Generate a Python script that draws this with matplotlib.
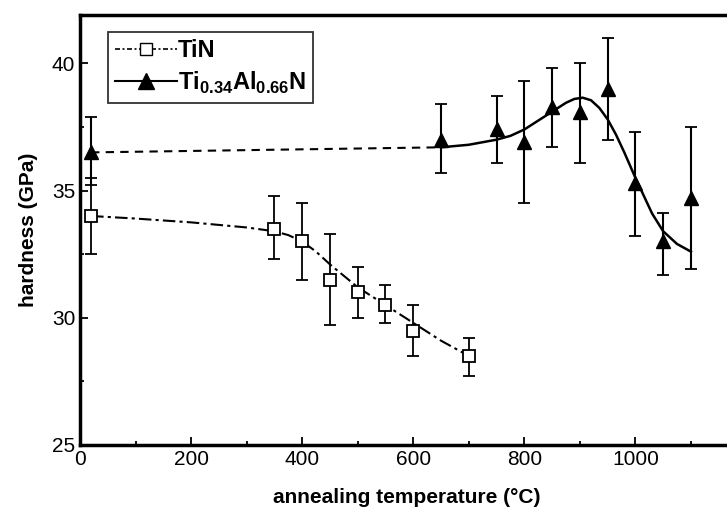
import matplotlib
matplotlib.use("Agg")
import matplotlib.pyplot as plt
import numpy as np
from matplotlib.ticker import MultipleLocator
from matplotlib.lines import Line2D

plt.rcParams['font.family'] = ['Liberation Sans', 'DejaVu Sans']
plt.rcParams['mathtext.fontset'] = 'custom'
plt.rcParams['mathtext.rm'] = 'Liberation Sans'
plt.rcParams['mathtext.bf'] = 'Liberation Sans:bold'

# TiN data
tin_T = [20, 350, 400, 450, 500, 550, 600, 700]
tin_H = [34.0, 33.5, 33.0, 31.5, 31.0, 30.5, 29.5, 28.5]
tin_lo = [32.5, 32.3, 31.5, 29.7, 30.0, 29.8, 28.5, 27.7]
tin_hi = [35.5, 34.8, 34.5, 33.3, 32.0, 31.3, 30.5, 29.2]

# Ti0.34Al0.66N data
tal_T = [20, 650, 750, 800, 850, 900, 950, 1000, 1050, 1100]
tal_H = [36.5, 37.0, 37.4, 36.9, 38.3, 38.1, 39.0, 35.3, 33.0, 34.7]
tal_lo = [35.2, 35.7, 36.1, 34.5, 36.7, 36.1, 37.0, 33.2, 31.7, 31.9]
tal_hi = [37.9, 38.4, 38.7, 39.3, 39.8, 40.0, 41.0, 37.3, 34.1, 37.5]

# guide curves
tin_fit_T = [20, 100, 200, 300, 350, 375, 400, 425, 450, 500, 550, 600, 650, 700]
tin_fit_H = [34.0, 33.9, 33.75, 33.55, 33.4, 33.25, 33.0, 32.6, 32.1, 31.2, 30.5, 29.8, 29.1, 28.5]
tal_dash_T = [20, 650]
tal_dash_H = [36.5, 36.7]
tal_fit_T = [650, 700, 750, 775, 800, 825, 850, 875, 890, 905, 920, 935, 950, 965, 980,
             1000, 1015, 1030, 1050, 1075, 1100]
tal_fit_H = [36.7, 36.8, 37.0, 37.15, 37.4, 37.75, 38.1, 38.45, 38.6, 38.65, 38.55, 38.25,
             37.8, 37.2, 36.5, 35.5, 34.8, 34.1, 33.4, 32.9, 32.6]

fig = plt.figure(figsize=(7.27, 5.15), dpi=100)
ax = fig.add_axes([80/727, 70/515, 1 - 80/727 + 0.01, 430/515])

ax.plot(tin_fit_T, tin_fit_H, color='black', lw=1.5, dashes=[6, 2, 1.5, 2])
ax.plot(tal_dash_T, tal_dash_H, color='black', lw=1.5, dashes=[4, 3])
ax.plot(tal_fit_T, tal_fit_H, color='black', lw=1.8)

tin_err = [np.array(tin_H) - np.array(tin_lo), np.array(tin_hi) - np.array(tin_H)]
tal_err = [np.array(tal_H) - np.array(tal_lo), np.array(tal_hi) - np.array(tal_H)]
ax.errorbar(tin_T, tin_H, yerr=tin_err, fmt='s', mfc='white', mec='black', ms=8,
            mew=1.3, ecolor='black', elinewidth=1.3, capsize=4, capthick=1.3, zorder=3)
ax.errorbar(tal_T, tal_H, yerr=tal_err, fmt='^', mfc='black', mec='black', ms=10,
            ecolor='black', elinewidth=1.5, capsize=4, capthick=1.3, zorder=3)

ax.set_xlim(0, 1178)
ax.set_ylim(25, 41.9)
ax.xaxis.set_major_locator(MultipleLocator(200))
ax.xaxis.set_minor_locator(MultipleLocator(100))
ax.yaxis.set_major_locator(MultipleLocator(5))
ax.yaxis.set_minor_locator(MultipleLocator(2.5))
ax.tick_params(which='major', direction='in', length=6, width=1.3, labelsize=15)
ax.tick_params(which='minor', direction='in', length=3, width=1.3)
for s in ax.spines.values():
    s.set_linewidth(2.5)

ax.set_xlabel('annealing temperature (°C)', fontsize=15, fontweight='bold', labelpad=14)
ax.set_ylabel('hardness (GPa)', fontsize=15, fontweight='bold', labelpad=10)

h1 = Line2D([], [], color='black', lw=1.2, dashes=[3, 1.5, 1.2, 1.5], marker='s', mfc='white', mec='black', ms=8)
h2 = Line2D([], [], color='black', lw=1.5, marker='^', mfc='black', mec='black', ms=11)
leg = ax.legend([h1, h2], ['TiN', r'$\mathbf{Ti}_{\mathbf{0.34}}\mathbf{Al}_{\mathbf{0.66}}\mathbf{N}$'],
                loc='upper left', bbox_to_anchor=(0.043, 0.96), fontsize=17, frameon=True,
                fancybox=False, edgecolor='black', handlelength=2.6, handletextpad=0.05,
                borderpad=0.3, labelspacing=0.3, borderaxespad=0)
leg.get_frame().set_linewidth(1.3)
plt.setp(leg.get_texts(), fontweight='bold')

fig.savefig('out.png', dpi=100)
